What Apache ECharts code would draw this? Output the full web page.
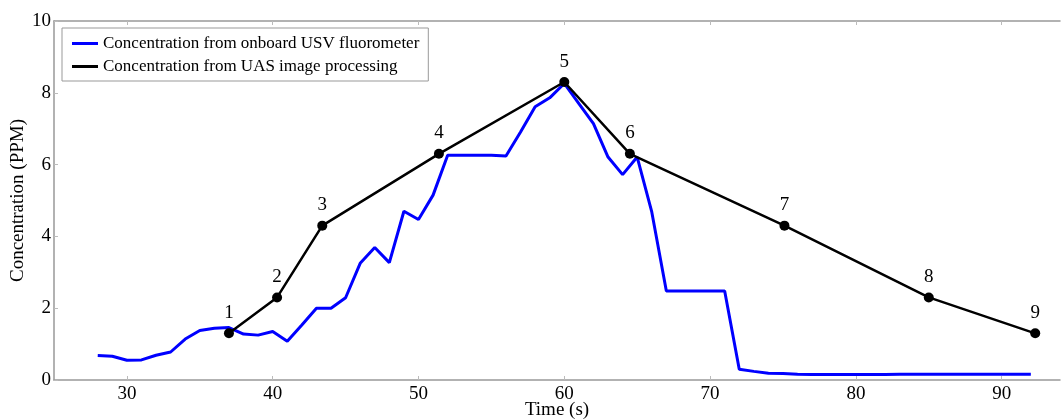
<!DOCTYPE html>
<html>
<head>
<meta charset="utf-8">
<script src="https://cdn.jsdelivr.net/npm/echarts@6/dist/echarts.min.js"></script>
<style>
  html, body { margin: 0; padding: 0; background: #fff; }
  #main { width: 1062px; height: 419px; }
</style>
</head>
<body>
<div id="main"></div>
<script>
// fluorometer on the USV, one reading per second
var usvTime = [28, 29, 30, 31, 32, 33, 34, 35, 36, 37, 38, 39, 40, 41, 42, 43, 44, 45, 46, 47, 48, 49, 50, 51, 52,
    53, 54, 55, 56, 57, 58, 59, 60, 61, 62, 63, 64, 65, 66, 67, 68, 69, 70, 71, 72, 73, 74, 75, 76, 77, 78, 79, 80,
    81, 82, 83, 84, 85, 86, 87, 88, 89, 90, 91, 92];
var usvConc = [0.68, 0.66, 0.55, 0.56, 0.69, 0.78, 1.14, 1.38, 1.44, 1.46, 1.28, 1.25, 1.35, 1.08, 1.53, 2.0, 2.0, 2.29,
    3.25, 3.69, 3.27, 4.70, 4.47, 5.15, 6.26, 6.26, 6.26, 6.26, 6.24, 6.91, 7.61, 7.86, 8.26, 7.70, 7.14, 6.21, 5.72,
    6.21, 4.68, 2.48, 2.48, 2.48, 2.48, 2.48, 0.30, 0.24, 0.19, 0.18, 0.16, 0.15, 0.15, 0.15, 0.15,
    0.15, 0.15, 0.16, 0.16, 0.16, 0.16, 0.16, 0.16, 0.16, 0.16, 0.16, 0.16];

// UAS image processing estimates
var uasTime = [37.0, 40.3, 43.4, 51.4, 60.0, 64.5, 75.1, 85.0, 92.3];
var uasConc = [1.3, 2.3, 4.3, 6.3, 8.3, 6.3, 4.3, 2.3, 1.3];
var uasLabels = ['1', '2', '3', '4', '5', '6', '7', '8', '9'];

var xTicks = [30, 40, 50, 60, 70, 80, 90];

var serif = '"Liberation Serif", "DejaVu Serif", serif';

var usvData = usvTime.map(function (t, i) { return [t, usvConc[i]]; });
var uasData = uasTime.map(function (t, i) { return [t, uasConc[i]]; });

var myChart = echarts.init(document.getElementById('main'), null, { renderer: 'canvas' });

var option = {
    animation: false,
    textStyle: { fontFamily: serif, color: '#000' },
    grid: { left: 54, right: 2, top: 21, bottom: 39, containLabel: false, outerBoundsMode: 'none' },
    legend: {
        orient: 'vertical',
        left: 62,
        top: 28,
        padding: [7, 9, 6, 10],
        itemGap: 6,
        itemWidth: 26,
        itemHeight: 3,
        itemTextGap: 17,
        icon: 'rect',
        borderColor: '#999',
        borderWidth: 1,
        textStyle: { fontFamily: serif, fontSize: 17, color: '#000' },
        data: ['Concentration from onboard USV fluorometer', 'Concentration from UAS image processing']
    },
    xAxis: [
        {
            type: 'value',
            min: 25,
            max: 94,
            name: 'Time (s)',
            nameLocation: 'middle',
            nameGap: 21,
            nameMoveOverlap: false,
            nameTextStyle: { fontFamily: serif, fontSize: 19, color: '#000' },
            axisLine: { show: true, lineStyle: { color: '#999', width: 1.5 } },
            axisTick: { show: true, inside: true, length: 4, lineStyle: { color: '#bbb' }, customValues: xTicks },
            axisLabel: { fontFamily: serif, fontSize: 19, color: '#000', margin: 5, customValues: xTicks },
            splitLine: { show: false }
        },
        {
            type: 'value',
            position: 'top',
            min: 25,
            max: 94,
            axisLine: { show: true, lineStyle: { color: '#999', width: 1.5 } },
            axisTick: { show: true, inside: true, length: 4, lineStyle: { color: '#bbb' }, customValues: xTicks },
            axisLabel: { show: false },
            splitLine: { show: false }
        }
    ],
    yAxis: {
        type: 'value',
        min: 0,
        max: 10,
        interval: 2,
        name: 'Concentration (PPM)',
        nameLocation: 'middle',
        nameGap: 26,
        nameMoveOverlap: false,
        nameTextStyle: { fontFamily: serif, fontSize: 19, color: '#000' },
        axisLine: { show: true, lineStyle: { color: '#999', width: 1.5 } },
        axisTick: { show: true, inside: true, length: 4, lineStyle: { color: '#bbb' } },
        axisLabel: { fontFamily: serif, fontSize: 19, color: '#000', margin: 3 },
        splitLine: { show: false }
    },
    series: [
        {
            name: 'Concentration from onboard USV fluorometer',
            type: 'line',
            data: usvData,
            showSymbol: false,
            symbol: 'none',
            color: '#0000ff',
            lineStyle: { color: '#0000ff', width: 3 },
            z: 2
        },
        {
            name: 'Concentration from UAS image processing',
            type: 'line',
            data: uasData,
            symbol: 'circle',
            symbolSize: 10,
            color: '#000',
            itemStyle: { color: '#000' },
            lineStyle: { color: '#000', width: 2.5 },
            label: {
                show: true,
                position: 'top',
                distance: 6,
                fontFamily: serif,
                fontSize: 19,
                color: '#000',
                formatter: function (p) { return uasLabels[p.dataIndex]; }
            },
            z: 3
        }
    ]
};

option && myChart.setOption(option);
</script>
</body>
</html>
